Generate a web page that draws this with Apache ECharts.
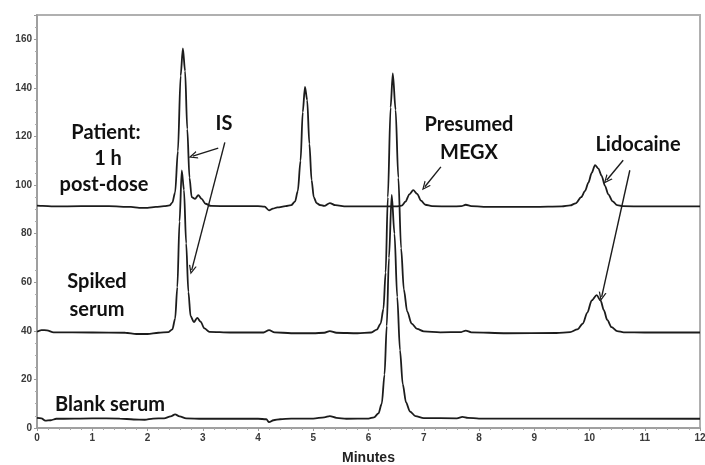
<!DOCTYPE html>
<html><head><meta charset="utf-8">
<script src="https://cdn.jsdelivr.net/npm/echarts/dist/echarts.min.js"></script>
<style>html,body{margin:0;padding:0;background:#fff}#c{width:705px;height:465px}</style>
</head><body><div id="c"></div><script>
// ---- data (minutes, response) ----
const xTicks = [0,1,2,3,4,5,6,7,8,9,10,11,12];
const yTicks = [0,20,40,60,80,100,120,140,160];

const patient = [[0,91.5],[0.1,91.4],[0.3,91.2],[0.8,91.3],[1.3,91.3],[1.7,91.0],[1.85,90.6],[2.0,90.6],[2.15,91.0],[2.3,91.3],[2.4,91.6],[2.45,92.8],[2.5,97],[2.55,114],[2.6,145],[2.64,156.3],[2.68,147],[2.72,123],[2.76,103],[2.8,95],[2.86,94.3],[2.92,95.8],[2.98,94.3],[3.05,92.3],[3.15,91.4],[3.5,91.3],[4.0,91.3],[4.12,91.1],[4.2,89.6],[4.27,90.3],[4.35,90.8],[4.5,91.3],[4.6,91.7],[4.67,93.2],[4.72,97.5],[4.77,110],[4.81,130],[4.85,140.4],[4.89,135],[4.93,117],[4.97,102],[5.01,95],[5.06,92.6],[5.12,91.8],[5.2,91.4],[5.3,92.6],[5.4,91.7],[5.6,91.2],[6.0,91.2],[6.5,91.2],[6.6,91.5],[6.67,93.2],[6.74,96.2],[6.81,97.9],[6.88,96.4],[6.95,93.6],[7.03,91.9],[7.15,91.3],[7.5,91.2],[7.68,91.3],[7.76,91.9],[7.86,91.3],[8.2,91.0],[9.0,91.0],[9.5,91.2],[9.65,91.6],[9.75,92.5],[9.85,95],[9.92,97.6],[9.98,101],[10.04,105],[10.1,108.2],[10.16,106.8],[10.22,103.8],[10.28,99.7],[10.34,96.2],[10.42,93.3],[10.5,91.7],[10.6,91.3],[11.0,91.2],[12,91.2]];

const spiked = [[0,39.6],[0.08,40.3],[0.18,40.2],[0.3,39.4],[1.0,39.3],[1.6,39.2],[1.8,38.7],[2.0,38.7],[2.2,39.2],[2.38,39.5],[2.45,40.6],[2.5,45],[2.54,58],[2.58,85],[2.62,106],[2.66,98],[2.7,76],[2.74,56],[2.78,46],[2.84,43.6],[2.9,45.3],[2.96,43.8],[3.03,41],[3.12,39.6],[3.5,39.3],[4.1,39.3],[4.2,40.3],[4.3,39.4],[4.6,39.0],[5.0,39.0],[5.2,39.2],[5.3,39.9],[5.42,39.2],[5.8,39.0],[6.05,39.3],[6.15,40.5],[6.22,43],[6.27,49],[6.31,64],[6.35,95],[6.4,132],[6.44,146],[6.49,131],[6.54,103],[6.59,74],[6.64,57],[6.7,48],[6.78,43],[6.88,40.8],[7.0,39.8],[7.3,39.4],[7.68,39.5],[7.76,40.1],[7.86,39.4],[8.5,39.0],[9.4,39.1],[9.65,39.5],[9.78,40.6],[9.88,43],[9.96,47.5],[10.04,52.5],[10.13,54.7],[10.2,52.5],[10.26,48.5],[10.32,44.5],[10.4,41.5],[10.5,39.9],[10.62,39.4],[11,39.3],[12,39.3]];

const blank = [[0,4.2],[0.08,4.0],[0.15,3.0],[0.25,3.2],[0.35,3.8],[1.0,4.0],[1.5,3.9],[1.75,3.5],[1.95,3.4],[2.1,3.9],[2.3,4.0],[2.42,4.8],[2.5,5.6],[2.58,4.8],[2.7,4.0],[3.0,3.8],[4.0,3.8],[4.15,3.6],[4.2,2.4],[4.28,3.2],[4.4,3.6],[4.6,3.9],[5.0,3.9],[5.2,4.4],[5.3,4.9],[5.42,4.2],[5.6,3.8],[6.0,3.9],[6.1,4.4],[6.18,6],[6.24,10],[6.29,22],[6.33,42],[6.37,70],[6.42,96],[6.47,80],[6.52,54],[6.57,32],[6.62,18],[6.68,10.5],[6.75,6.8],[6.85,4.9],[7.0,4.1],[7.6,4.0],[7.7,4.6],[7.8,4.2],[8.0,3.9],[12,3.8]];

// annotation arrows: [from, to] in data coordinates
const arrows = [
  [[3.28,115.2],[2.82,111.9]],
  [[3.40,117.6],[2.80,65.0]],
  [[7.31,107.5],[7.02,99.3]],
  [[10.61,110.2],[10.31,102.0]],
  [[10.73,106.1],[10.22,54.0]]
];
const labels = [
  {t:'Patient:', x:106, y:133},
  {t:'1 h', x:108, y:159},
  {t:'post-dose', x:104, y:185},
  {t:'IS', x:224, y:124},
  {t:'Presumed', x:469, y:125},
  {t:'MEGX', x:469, y:153},
  {t:'Lidocaine', x:638, y:145},
  {t:'Spiked', x:97, y:282},
  {t:'serum', x:97, y:310},
  {t:'Blank serum', x:110, y:405}
];

const chart = echarts.init(document.getElementById('c'), null, {renderer:'canvas'});
const axisFont = {fontFamily:'Liberation Sans', fontWeight:'bold', fontSize:10, color:'#3a3a3a'};
const lineStyle = {color:'#1c1c1c', width:1.8};
function mkSeries(d, extra){
  return Object.assign({type:'line', data:d, showSymbol:false, smooth:0.3, smoothMonotone:'x',
    lineStyle:lineStyle, silent:true, animation:false}, extra||{});
}
const chevron = 'path://M5,0 L10,10 L8.3,10 L5,3.2 L1.7,10 L0,10 Z';
chart.setOption({
  animation:false,
  grid:{left:37,right:5,top:15,bottom:37,show:true,borderColor:'#b0b0b0',borderWidth:2,outerBoundsMode:'none'},
  xAxis:{type:'value',min:0,max:12,interval:1,
    axisLine:{lineStyle:{color:'#9a9a9a',width:1.5}},
    axisTick:{show:true,length:3,lineStyle:{color:'#9a9a9a'}},
    minorTick:{show:true,splitNumber:5,length:2,lineStyle:{color:'#aaa'}},
    splitLine:{show:false},
    axisLabel:Object.assign({margin:5, formatter:v=>xTicks.includes(v)?String(v):''},axisFont),
    name:'Minutes',nameLocation:'middle',nameGap:23,
    nameTextStyle:{fontFamily:'Liberation Sans',fontWeight:'bold',fontSize:14,color:'#222'}},
  yAxis:{type:'value',min:0,max:170,interval:20,
    axisLine:{show:true,lineStyle:{color:'#9a9a9a',width:1.5}},
    axisTick:{show:true,length:3,lineStyle:{color:'#9a9a9a'}},
    minorTick:{show:true,splitNumber:4,length:2,lineStyle:{color:'#aaa'}},
    splitLine:{show:false},
    axisLabel:Object.assign({margin:5,showMaxLabel:false, formatter:v=>yTicks.includes(v)?String(v):''},axisFont)},
  series:[
    mkSeries(patient,{markLine:{silent:true,symbol:['none',chevron],symbolSize:[8,9],
      label:{show:false},emphasis:{disabled:true},animation:false,
      lineStyle:{color:'#1c1c1c',width:1.4,type:'solid'},
      data:arrows.map(a=>[{coord:a[0]},{coord:a[1]}])}}),
    mkSeries(spiked),
    mkSeries(blank)
  ],
  graphic:labels.map(l=>({type:'text',silent:true,style:{text:l.t,x:l.x,y:l.y,align:'center',verticalAlign:'middle',
    fontFamily:'Lato',fontWeight:'bold',fontSize:20,fill:'#111'}}))
});
</script></body></html>
